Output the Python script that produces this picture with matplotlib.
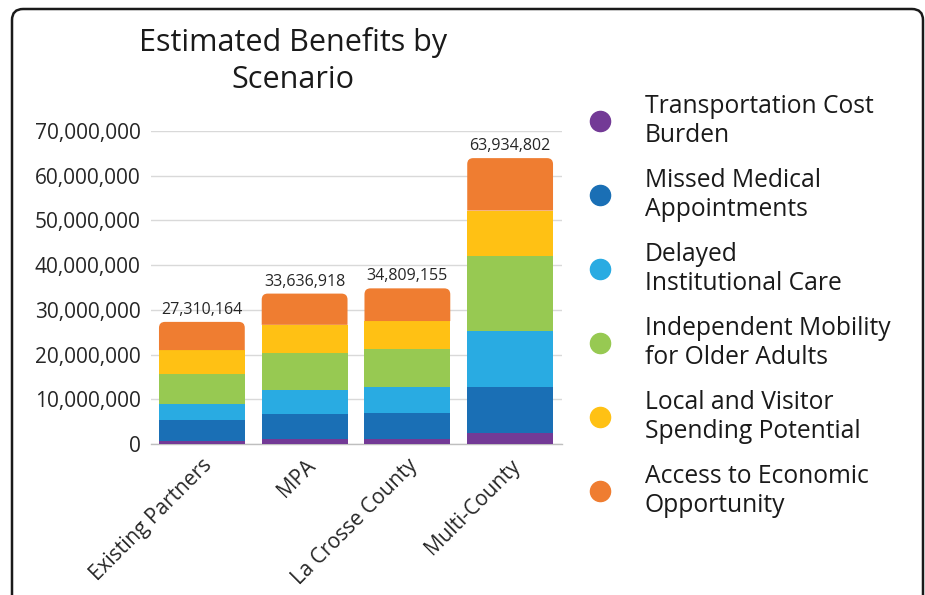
import matplotlib
matplotlib.use("Agg")
import matplotlib.pyplot as plt
from matplotlib.path import Path
from matplotlib.patches import PathPatch, FancyBboxPatch
from matplotlib.lines import Line2D
from matplotlib.ticker import FuncFormatter, MultipleLocator

plt.rcParams['font.family'] = ['Open Sans', 'DejaVu Sans']

categories = ["Existing Partners", "MPA", "La Crosse County", "Multi-County"]
series_names = [
    "Transportation Cost\nBurden",
    "Missed Medical\nAppointments",
    "Delayed\nInstitutional Care",
    "Independent Mobility\nfor Older Adults",
    "Local and Visitor\nSpending Potential",
    "Access to Economic\nOpportunity",
]
colors = ["#733a96", "#1a6fb5", "#29abe2", "#97c952", "#ffc114", "#ef7d31"]

transport_cost = [700000, 1100000, 1100000, 2400000]
missed_medical = [4650000, 5600000, 5900000, 10400000]
delayed_care = [3650000, 5400000, 5750000, 12500000]
independent_mobility = [6600000, 8300000, 8500000, 16800000]
local_spending = [5400000, 6250000, 6250000, 10100000]
economic_opportunity = [6310164, 6986918, 7309155, 11734802]
totals = [27310164, 33636918, 34809155, 63934802]

series = [transport_cost, missed_medical, delayed_care,
          independent_mobility, local_spending, economic_opportunity]

W, H = 925, 595
fig = plt.figure(figsize=(W / 100, H / 100), dpi=100)

# outer rounded border
border = FancyBboxPatch((12 / W, -0.05), (923 - 12) / W, (H - 9) / H + 0.05,
                        boxstyle="round,pad=0,rounding_size=0.012",
                        transform=fig.transFigure, fill=False,
                        edgecolor="#1a1a1a", linewidth=1.8, zorder=0,
                        mutation_aspect=W / H)
fig.patches.append(border)

ax_left, ax_right = 150.5, 561.5
ax_bottom, ax_top = 444, 131
ax = fig.add_axes([ax_left / W, (H - ax_bottom) / H,
                   (ax_right - ax_left) / W, (ax_bottom - ax_top) / H])
ax.set_xlim(-0.5, 3.5)
ax.set_ylim(0, 70000000)

bar_w = 0.835
x = list(range(len(categories)))
bottoms = [0] * len(categories)
px_per_x = (ax_right - ax_left) / 4.0
px_per_y = (ax_bottom - ax_top) / 70000000
r_px = 6
rx = r_px / px_per_x
ry = r_px / px_per_y
for si, vals in enumerate(series):
    is_top = si == len(series) - 1
    for i, v in enumerate(vals):
        x0 = x[i] - bar_w / 2
        x1 = x[i] + bar_w / 2
        y0 = bottoms[i]
        y1 = y0 + v
        if not is_top:
            ax.bar(x[i], v, bar_w, bottom=y0, color=colors[si],
                   linewidth=0, zorder=3)
        else:
            verts = [(x0, y0), (x1, y0), (x1, y1 - ry), (x1, y1), (x1 - rx, y1),
                     (x0 + rx, y1), (x0, y1), (x0, y1 - ry), (x0, y0)]
            codes = [Path.MOVETO, Path.LINETO, Path.LINETO, Path.CURVE3,
                     Path.CURVE3, Path.LINETO, Path.CURVE3, Path.CURVE3,
                     Path.CLOSEPOLY]
            ax.add_patch(PathPatch(Path(verts, codes), facecolor=colors[si],
                                   linewidth=0, zorder=3))
        bottoms[i] = y1

for i, t in enumerate(totals):
    ax.text(x[i], t + 900000, f"{t:,}", ha="center", va="bottom",
            fontsize=11.5, color="#262626", zorder=4)

ax.yaxis.set_major_locator(MultipleLocator(10000000))
ax.yaxis.set_major_formatter(FuncFormatter(lambda v, p: f"{int(v):,}"))
ax.grid(axis="y", color="#d9d9d9", linewidth=1.0, zorder=0)
ax.set_axisbelow(True)
for s in ["top", "right", "left"]:
    ax.spines[s].set_visible(False)
ax.spines["bottom"].set_color("#bfbfbf")
ax.spines["bottom"].set_linewidth(1.0)
ax.tick_params(axis="both", length=0, colors="#262626")
ax.tick_params(axis="y", pad=7, labelsize=15)
ax.set_xticks(x)
ax.set_xticklabels(categories, rotation=45, ha="right",
                   rotation_mode="anchor")
ax.tick_params(axis="x", pad=8, labelsize=15)

fig.text(293 / W, 1 - 27 / H, "Estimated Benefits by\nScenario",
         ha="center", va="top", fontsize=22, color="#1a1a1a",
         linespacing=1.32)

# legend
leg_y0, leg_dy = 121, 74
for i, name in enumerate(series_names):
    yy = 1 - (leg_y0 + i * leg_dy) / H
    fig.add_artist(Line2D([600 / W], [yy], marker="o", markersize=14.5,
                          color=colors[i], linestyle="none",
                          transform=fig.transFigure))
    fig.text(645 / W, yy, name, ha="left", va="center", fontsize=17.7,
             color="#1a1a1a", linespacing=1.2)

fig.savefig("out.png", dpi=100)
